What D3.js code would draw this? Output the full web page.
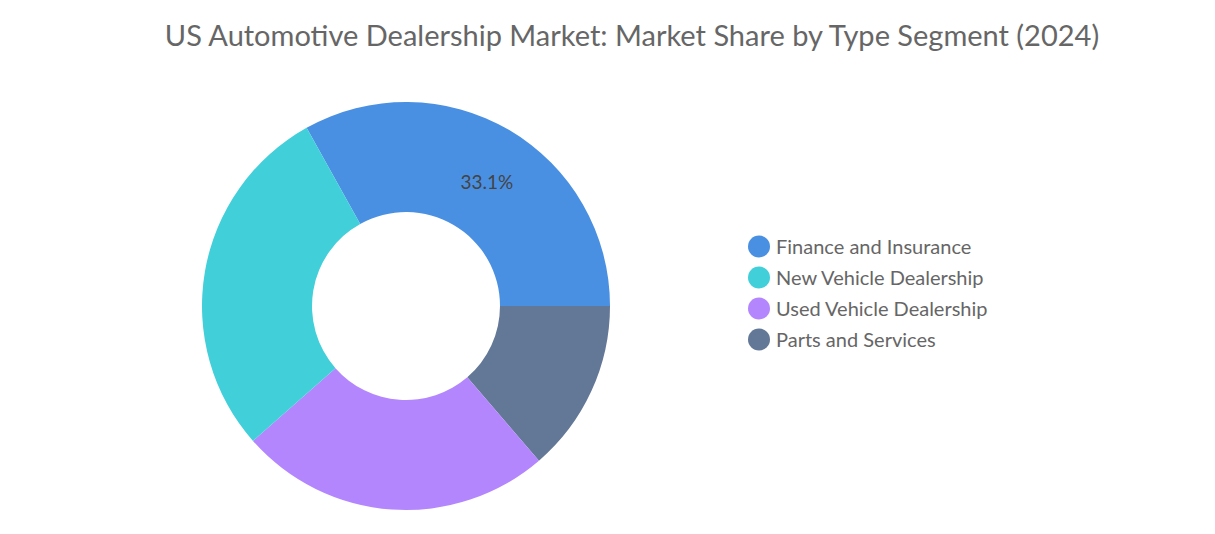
<!DOCTYPE html>
<html><head><meta charset="utf-8">
<script src="https://cdn.jsdelivr.net/npm/d3@7"></script>
<style>body{margin:0;background:#fff;font-family:Lato,"Open Sans",sans-serif;}</style>
</head><body>
<svg id="c" width="1215" height="534"></svg>
<script>
const categories = ["Finance and Insurance","New Vehicle Dealership","Used Vehicle Dealership","Parts and Services"];
const values = [33.1, 28.4, 24.8, 13.7];
const colors = ["#4a90e2","#41cfd9","#b386fe","#637796"];
const drawOrder = [0,3,2,1];

const svg = d3.select("#c");
svg.append("text").attr("x",632).attr("y",46).attr("text-anchor","middle")
  .attr("font-size",29).attr("fill","#666").text("US Automotive Dealership Market: Market Share by Type Segment (2024)");

const cx=406, cy=306, R=204, r=94;
const total = d3.sum(values);
const start = Math.PI/2 - values[0]/total*2*Math.PI;
const pie = d3.pie().sort(null).value(i=>values[i]).startAngle(start).endAngle(start+2*Math.PI);
const arcs = pie(drawOrder);
const arc = d3.arc().innerRadius(r).outerRadius(R);
const g = svg.append("g").attr("transform",`translate(${cx},${cy})`);
g.selectAll("path").data(arcs).enter().append("path")
  .attr("d",arc).attr("fill",d=>colors[d.data]);
const a0 = arcs[0];
const lab = d3.arc().innerRadius(150).outerRadius(150).centroid(a0);
g.append("text").attr("x",lab[0]+5).attr("y",lab[1]+12).attr("text-anchor","middle")
  .attr("font-size",19).attr("fill","#444").text(values[0].toFixed(1)+"%");

const y = d3.scaleBand().domain(categories).range([231,355]);
const lg = svg.append("g");
categories.forEach((c,i)=>{
  const yy = y(c)+y.bandwidth()/2;
  lg.append("circle").attr("cx",759).attr("cy",yy).attr("r",11).attr("fill",colors[i]);
  lg.append("text").attr("x",776).attr("y",yy+7).attr("font-size",20).attr("fill","#666").text(c);
});
</script>
</body></html>
